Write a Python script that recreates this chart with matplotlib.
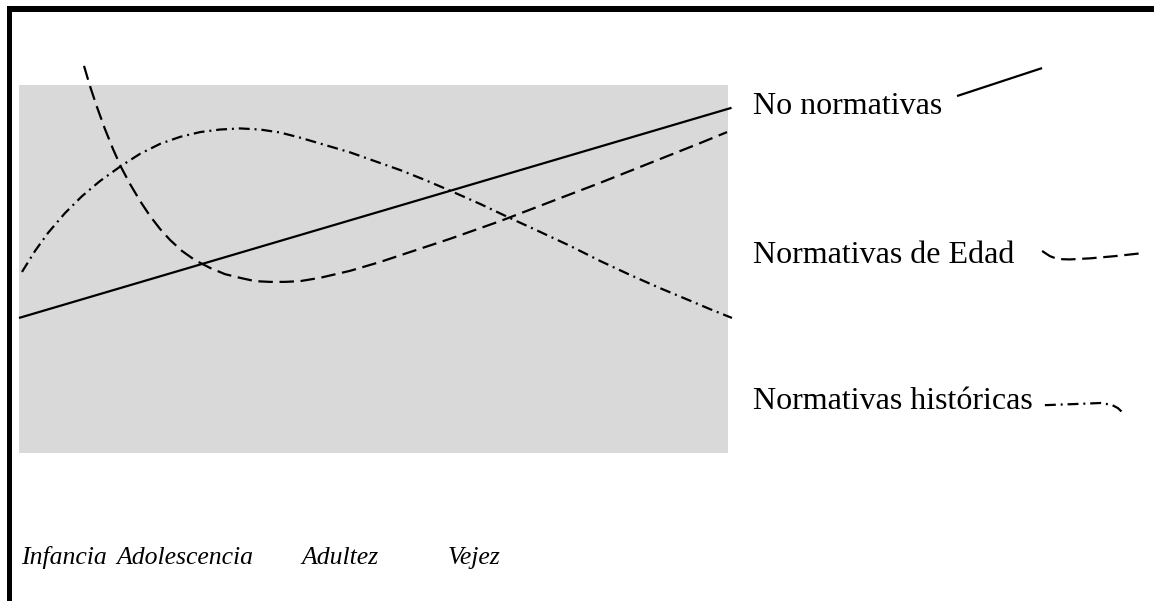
import matplotlib
matplotlib.use("Agg")
from matplotlib import pyplot as plt
from matplotlib.patches import Rectangle

plt.rcParams["font.family"] = ["Liberation Serif", "DejaVu Serif"]

# Etapas de la vida (posicion en el eje x, 0-100)
etapas = ["Infancia", "Adolescencia", "Adultez", "Vejez"]
etapas_x = [0.3, 13.8, 39.9, 60.4]

# No normativas: recta
no_norm_x = [0.0, 100.5]
no_norm_y = [3.67, 9.38]

# Normativas de edad
edad_x = [9.17, 10.01, 11.00, 12.13, 13.26, 14.39, 15.66, 17.07, 18.48, 19.89,
          21.30, 22.99, 24.82, 26.94, 29.06, 31.17, 33.29, 35.40, 37.52, 39.63,
          42.45, 46.69, 50.92, 55.15, 60.79, 67.84, 74.89, 81.95, 89.00, 96.05,
          99.86]
edad_y = [10.52, 9.97, 9.40, 8.80, 8.26, 7.77, 7.31, 6.85, 6.44, 6.09,
          5.79, 5.49, 5.24, 5.03, 4.86, 4.76, 4.67, 4.65, 4.65, 4.67,
          4.76, 4.95, 5.19, 5.46, 5.82, 6.30, 6.82, 7.34, 7.88, 8.42,
          8.72]

# Normativas historicas
hist_x = [0.42, 2.26, 4.09, 6.49, 8.89, 11.42, 14.39, 17.07, 19.89, 22.71,
          25.53, 28.35, 31.17, 33.99, 36.81, 39.63, 43.16, 46.69, 50.21, 53.74,
          57.26, 60.79, 65.02, 68.97, 73.48, 77.71, 81.95, 86.18, 90.41, 94.64,
          97.46, 100.56]
hist_y = [4.92, 5.49, 5.98, 6.52, 6.98, 7.39, 7.80, 8.13, 8.40, 8.59,
          8.72, 8.79, 8.82, 8.79, 8.71, 8.57, 8.37, 8.17, 7.93, 7.69,
          7.42, 7.13, 6.77, 6.41, 6.01, 5.63, 5.22, 4.84, 4.48, 4.14,
          3.91, 3.67]

# Textos de la derecha y muestras de linea
leyenda = ["No normativas", "Normativas de Edad", "Normativas históricas"]
leyenda_y = [9.21, 5.17, 1.19]
muestra_no_norm_x = [132.3, 144.3]
muestra_no_norm_y = [9.70, 10.46]
muestra_edad_x = [144.3, 145.4, 146.5, 148.2, 151.1, 154.6, 158.4]
muestra_edad_y = [5.49, 5.35, 5.27, 5.26, 5.29, 5.35, 5.43]
muestra_hist_x = [144.7, 148.9, 152.7, 154.2, 155.0, 155.7]
muestra_hist_y = [1.30, 1.33, 1.36, 1.30, 1.22, 1.09]

W, H = 1154, 601
fig = plt.figure(figsize=(W / 100, H / 100), dpi=100)
ax = fig.add_axes([19 / W, (H - 453) / H, 709 / W, 368 / H])
ax.set_facecolor("#d9d9d9")
ax.set_xlim(0, 100)
ax.set_ylim(0, 10)
ax.set_xticks([])
ax.set_yticks([])
for s in ax.spines.values():
    s.set_visible(False)

lw = 1.6
dash = (0, (6.5, 3.0))
dashdot = (0, (4.9, 2.2, 0.9, 2.2))
kw = dict(color="black", lw=lw, clip_on=False, solid_capstyle="butt",
          dash_capstyle="butt", solid_joinstyle="round", dash_joinstyle="round")

ax.plot(no_norm_x, no_norm_y, **kw)
ax.plot(edad_x, edad_y, ls=dash, **kw)
ax.plot(hist_x, hist_y, ls=dashdot, **kw)

ax.plot(muestra_no_norm_x, muestra_no_norm_y, **kw)
ax.plot(muestra_edad_x, muestra_edad_y, ls=dash, **kw)
ax.plot(muestra_hist_x, muestra_hist_y, ls=dashdot, **kw)

for txt, y in zip(leyenda, leyenda_y):
    ax.text(103.5, y, txt, fontsize=23, ha="left", va="baseline", clip_on=False)

trans = ax.get_xaxis_transform()
for txt, x in zip(etapas, etapas_x):
    ax.text(x, (453 - 564) / 368, txt, transform=trans, fontsize=18.5,
            style="italic", ha="left", va="baseline", clip_on=False)

# marco negro superior e izquierdo
fig.add_artist(Rectangle((7 / W, (H - 12) / H), 1 - 7 / W, 6 / H,
                         transform=fig.transFigure, color="black", lw=0))
fig.add_artist(Rectangle((7 / W, 0), 5 / W, (H - 6) / H,
                         transform=fig.transFigure, color="black", lw=0))

fig.savefig("out.png", dpi=100)
plt.close(fig)
